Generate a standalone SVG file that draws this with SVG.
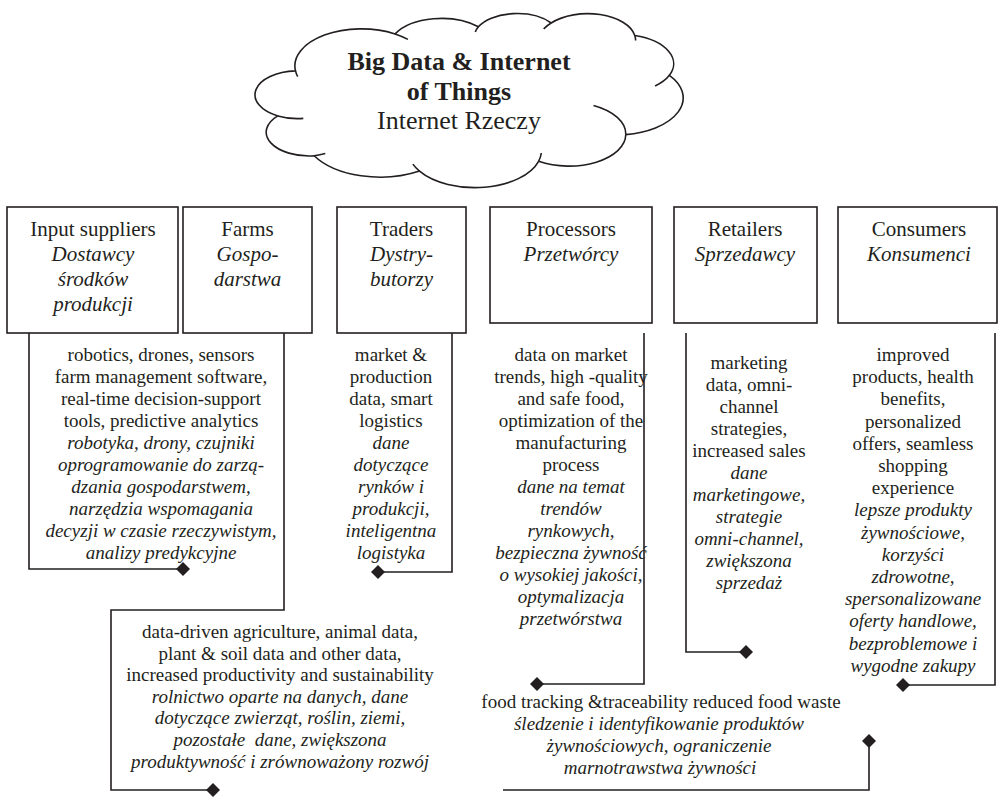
<svg xmlns="http://www.w3.org/2000/svg" width="1001" height="798" viewBox="0 0 1001 798">
<style>
.t{font-family:"Liberation Serif","Times New Roman",serif;fill:#231f20;text-anchor:middle}
.h{font-size:21px}
.b{font-size:19px}
.i{font-style:italic}
.ct{font-size:26px}
.bold{font-weight:bold}
.box{fill:#fff;stroke:#231f20;stroke-width:1.6}
.con{fill:none;stroke:#231f20;stroke-width:1.6;marker-end:url(#dia)}
.cl{fill:#fff;stroke:#231f20;stroke-width:1.6;stroke-linejoin:round}
.stub{fill:none;stroke:#231f20;stroke-width:1.6}
</style>
<defs>
<marker id="dia" markerUnits="userSpaceOnUse" markerWidth="16" markerHeight="16" viewBox="-8 -8 16 16" refX="0" refY="0" orient="auto">
<path d="M0,-7 L7,0 L0,7 L-7,0 Z" fill="#231f20"/>
</marker>
</defs>
<rect width="1001" height="798" fill="#fff"/>

<g id="cloud">
<path class="cl" d="M295.5,70.9 A66.6,37 0 0 1 395.1,33.9 A52.6,29.3 0 0 1 478.4,26.8 A43,23.9 0 0 1 551.2,23 A47.9,26.6 0 0 1 634.8,35.5 A52.6,29.3 0 0 1 669.4,75.3 A66.8,37.1 0 0 1 625.8,134.6 A57,31.7 0 0 1 538.6,161.3 A66.6,37.1 0 0 1 419.5,171.1 A76.1,42.5 0 0 1 314.2,155.8 A43,23.8 0 0 1 277.8,115.9 A42.8,23.9 0 0 1 295.5,70.9 Z"/>
<path class="stub" d="M303.3,118.4 A42.8,23.9 0 0 1 277.8,115.9 M325.3,153.6 A43,23.8 0 0 1 314.2,155.8 M419.5,171.1 A66.6,37.1 0 0 1 412.9,164.1 M541.3,153 A66.6,37.1 0 0 1 538.6,161.3 M593.5,105.5 A57,31.7 0 0 1 625.8,134.6 M669.4,75.3 A52.6,29.3 0 0 1 655.1,86 M634.8,35.5 A47.9,26.6 0 0 1 635.6,40.5 M543.7,28.9 A47.9,26.6 0 0 1 551.2,23 M475.3,32 A43,23.9 0 0 1 478.4,26.8 M395.1,33.9 A66.6,37 0 0 1 407.9,39.4 M297.7,76.6 A66.6,37 0 0 1 295.5,70.9"/>
<text class="t ct bold" x="459" y="70">Big Data &amp; Internet</text>
<text class="t ct bold" x="459" y="100">of Things</text>
<text class="t ct" x="459" y="129">Internet Rzeczy</text>
</g>

<g id="n-input">
<rect class="box" x="7" y="207" width="171" height="126"/>
<text class="t h" x="93" y="236">Input suppliers</text>
<text class="t h i" x="93" y="261">Dostawcy</text>
<text class="t h i" x="93" y="286">środków</text>
<text class="t h i" x="93" y="311">produkcji</text>
</g>
<g id="n-farms">
<rect class="box" x="183" y="207" width="129" height="126"/>
<text class="t h" x="247.5" y="236">Farms</text>
<text class="t h i" x="247.5" y="261">Gospo-</text>
<text class="t h i" x="247.5" y="286">darstwa</text>
</g>
<g id="n-traders">
<rect class="box" x="337" y="207" width="129" height="126"/>
<text class="t h" x="401.5" y="236">Traders</text>
<text class="t h i" x="401.5" y="261">Dystry-</text>
<text class="t h i" x="401.5" y="286">butorzy</text>
</g>
<g id="n-processors">
<rect class="box" x="490" y="207" width="162" height="116"/>
<text class="t h" x="571" y="236">Processors</text>
<text class="t h i" x="571" y="261">Przetwórcy</text>
</g>
<g id="n-retailers">
<rect class="box" x="674" y="207" width="143" height="116"/>
<text class="t h" x="745" y="236">Retailers</text>
<text class="t h i" x="745" y="261">Sprzedawcy</text>
</g>
<g id="n-consumers">
<rect class="box" x="838" y="207" width="159" height="116"/>
<text class="t h" x="919" y="236">Consumers</text>
<text class="t h i" x="919" y="261">Konsumenci</text>
</g>

<g id="l-input-farms" class="t b">
<text x="161" y="361">robotics, drones, sensors</text>
<text x="161" y="383">farm management software,</text>
<text x="161" y="405">real-time decision-support</text>
<text x="161" y="427">tools, predictive analytics</text>
<text class="i" x="161" y="449">robotyka, drony, czujniki</text>
<text class="i" x="161" y="471">oprogramowanie do zarzą-</text>
<text class="i" x="161" y="493">dzania gospodarstwem,</text>
<text class="i" x="161" y="515">narzędzia wspomagania</text>
<text class="i" x="161" y="537">decyzji w czasie rzeczywistym,</text>
<text class="i" x="161" y="559">analizy predykcyjne</text>
</g>

<g id="l-traders" class="t b">
<text x="391" y="361">market &amp;</text>
<text x="391" y="383">production</text>
<text x="391" y="405">data, smart</text>
<text x="391" y="427">logistics</text>
<text class="i" x="391" y="449">dane</text>
<text class="i" x="391" y="471">dotyczące</text>
<text class="i" x="391" y="493">rynków i</text>
<text class="i" x="391" y="515">produkcji,</text>
<text class="i" x="391" y="537">inteligentna</text>
<text class="i" x="391" y="559">logistyka</text>
</g>

<g id="l-processors" class="t b">
<text x="571" y="361">data on market</text>
<text x="571" y="383">trends, high -quality</text>
<text x="571" y="405">and safe food,</text>
<text x="571" y="427">optimization of the</text>
<text x="571" y="449">manufacturing</text>
<text x="571" y="471">process</text>
<text class="i" x="571" y="493">dane na temat</text>
<text class="i" x="571" y="515">trendów</text>
<text class="i" x="571" y="537">rynkowych,</text>
<text class="i" x="571" y="559">bezpieczna żywność</text>
<text class="i" x="571" y="581">o wysokiej jakości,</text>
<text class="i" x="571" y="603">optymalizacja</text>
<text class="i" x="571" y="625">przetwórstwa</text>
</g>

<g id="l-retailers" class="t b">
<text x="749" y="369">marketing</text>
<text x="749" y="391">data, omni-</text>
<text x="749" y="413">channel</text>
<text x="749" y="435">strategies,</text>
<text x="749" y="457">increased sales</text>
<text class="i" x="749" y="479">dane</text>
<text class="i" x="749" y="501">marketingowe,</text>
<text class="i" x="749" y="523">strategie</text>
<text class="i" x="749" y="545">omni-channel,</text>
<text class="i" x="749" y="567">zwiększona</text>
<text class="i" x="749" y="589">sprzedaż</text>
</g>

<g id="l-consumers" class="t b">
<text x="913" y="361">improved</text>
<text x="913" y="383.2">products, health</text>
<text x="913" y="405.4">benefits,</text>
<text x="913" y="427.6">personalized</text>
<text x="913" y="449.8">offers, seamless</text>
<text x="913" y="472">shopping</text>
<text x="913" y="494.2">experience</text>
<text class="i" x="913" y="516.4">lepsze produkty</text>
<text class="i" x="913" y="538.6">żywnościowe,</text>
<text class="i" x="913" y="560.8">korzyści</text>
<text class="i" x="913" y="583">zdrowotne,</text>
<text class="i" x="913" y="605.2">spersonalizowane</text>
<text class="i" x="913" y="627.4">oferty handlowe,</text>
<text class="i" x="913" y="649.6">bezproblemowe i</text>
<text class="i" x="913" y="671.8">wygodne zakupy</text>
</g>

<g id="l-data-driven" class="t b">
<text x="280" y="638">data-driven agriculture, animal data,</text>
<text x="280" y="659.6">plant &amp; soil data and other data,</text>
<text x="280" y="681.2">increased productivity and sustainability</text>
<text class="i" x="280" y="702.8">rolnictwo oparte na danych, dane</text>
<text class="i" x="280" y="724.4">dotyczące zwierząt, roślin, ziemi,</text>
<text class="i" x="280" y="746" style="white-space:pre">pozostałe  dane, zwiększona</text>
<text class="i" x="280" y="767.6">produktywność i zrównoważony rozwój</text>
</g>

<g id="l-food-tracking" class="t b">
<text x="661" y="708">food tracking &amp;traceability reduced food waste</text>
<text class="i" x="659" y="730">śledzenie i identyfikowanie produktów</text>
<text class="i" x="659" y="752">żywnościowych, ograniczenie</text>
<text class="i" x="660" y="774">marnotrawstwa żywności</text>
</g>

<g id="connectors">
<path class="con" d="M29,333 V569 H183"/>
<path class="con" d="M284,333 V610 H111 V790 H213"/>
<path class="con" d="M452,333 V572 H378"/>
<path class="con" d="M644,333 V684 H537"/>
<path class="con" d="M686,333 V652 H746"/>
<path class="con" d="M995,333 V685 H903"/>
<path class="con" d="M503,790 H869 V741"/>
</g>
</svg>
